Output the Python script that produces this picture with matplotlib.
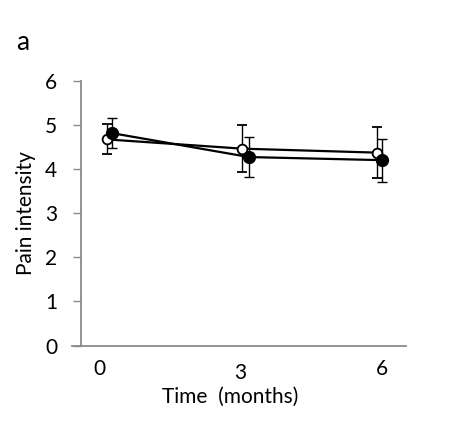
import numpy as np
import matplotlib
matplotlib.use('Agg')
import matplotlib.pyplot as plt
import matplotlib.transforms as mtrans

plt.rc('font', family=['Lato', 'DejaVu Sans'], size=15)

# dati
mesi = [0, 3, 6]
x_aperti = [0.16, 3.04, 5.90]
x_pieni = [0.28, 3.18, 6.00]
y_aperti = [4.67, 4.46, 4.37]
err_aperti = [0.34, 0.53, 0.57]
y_pieni = [4.81, 4.27, 4.20]
err_pieni = [0.34, 0.45, 0.49]

grigio = '#8a8a8a'

fig = plt.figure(figsize=(4.68, 4.24), dpi=100)
ax = fig.add_axes([72 / 468, 1 - 345.5 / 424, 333.7 / 468, 264.8 / 424])

ax.errorbar(x_aperti, y_aperti, yerr=err_aperti, color='black', lw=1.6,
            marker='o', ms=7, mfc='white', mec='black', mew=1.3,
            ecolor='black', elinewidth=1.0, capsize=3.5, capthick=1.0, zorder=3)
ax.errorbar(x_pieni, y_pieni, yerr=err_pieni, color='black', lw=1.6,
            marker='o', ms=8.5, mfc='black', mec='black',
            ecolor='black', elinewidth=1.0, capsize=3.5, capthick=1.0, zorder=4)

ax.set_xlim(-0.58, 6.51)
ax.set_ylim(0, 6)
ax.set_yticks(range(7))
ax.set_xticks(mesi)
ax.set_xticklabels([str(m) for m in mesi])

for s in ['top', 'right']:
    ax.spines[s].set_visible(False)
ax.spines['left'].set_position(('axes', 8.7 / 333.7))
ax.spines['left'].set_color(grigio)
ax.spines['bottom'].set_color(grigio)
ax.spines['left'].set_linewidth(1.3)
ax.spines['bottom'].set_linewidth(1.3)

ax.tick_params(axis='y', direction='out', length=6, width=1, color=grigio, pad=11)
ax.tick_params(axis='x', length=0, pad=10)

# l'etichetta "3" nell'originale sta un po' piu in basso
lab3 = ax.get_xticklabels()[1]
lab3.set_transform(lab3.get_transform() + mtrans.ScaledTranslation(0, -2.5 / 72, fig.dpi_scale_trans))

ax.set_xlabel('Time  (months)', va='top')
ax.xaxis.set_label_coords(0.473, -0.158)
ax.set_ylabel('Pain intensity')
ax.yaxis.set_label_coords(-0.108, 0.5)

fig.text(23 / 468, 1 - 42 / 424, 'a', ha='center', va='center', fontsize=19)

plt.savefig('out.png', dpi=100)
